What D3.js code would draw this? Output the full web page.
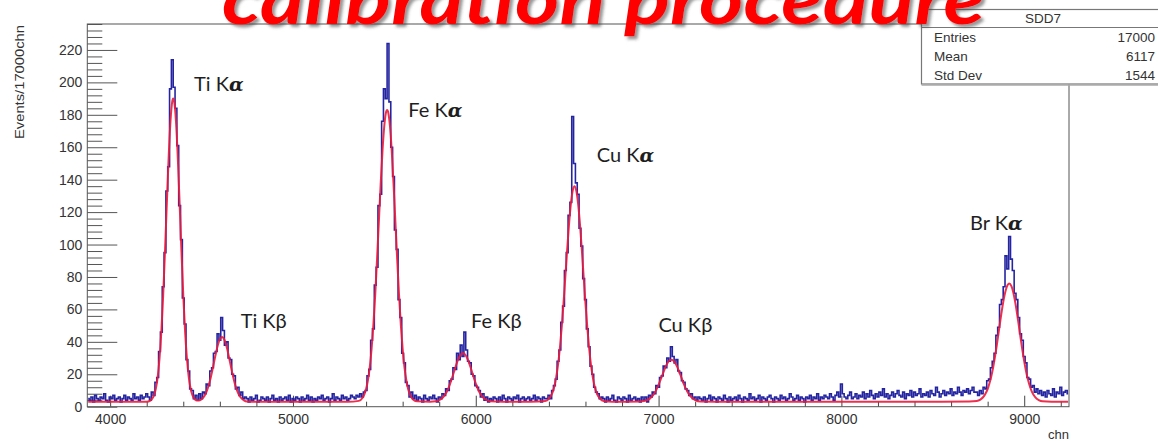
<!DOCTYPE html>
<html>
<head>
<meta charset="utf-8">
<script src="https://cdn.jsdelivr.net/npm/d3@7"></script>
<style>
  body { margin: 0; background: #fff; }
  svg { display: block; }
</style>
</head>
<body>
<svg id="chart" width="1158" height="442"></svg>
<script>
// ---- Spectrum data: counts per 10-channel bin (bin centres start at 3880) ----
const binStart = 3880;
const binWidth = 10;

const countsLowBg  = [5,4,6,3,7,5,4,6,5,8,4,3,6,5,7,4,5,6,3,5,7,4,6,5,4,8,5,6,4,7,5,6,8];            // 3880–4200
const countsTi     = [6,4,9,7,15,18,34,46,74,95,133,148,196,214,197,184,161,124,103,67,51,29,22,11,10,5,7,4,
                      8,5,9,8,14,13,22,24,33,34,45,41,55,47,38,40,30,29,20,19,11,12,7,9,5,6];                // 4210–4740
const countsMidBg1 = [5,3,6,4,5,7,3,4,6,5,4,6,3,5,7,4,5,3,6,4,5,6,4,7,3,5,4,6,5,3,6,4,5,7,4,6,3,5,4,6,
                      5,7,4,5,6,3,5,8,4,6,5,4,7,5,6,4,5,7,6,5,7,6,8,6];                                    // 4750–5380
const countsFeA    = [9,10,19,23,41,48,75,86,124,131,176,196,190,224,188,160,142,109,97,66,55,33,27,15,13,6,9,5,7]; // 5390–5670
const countsMidBg2 = [4,6,5,3,7,5,4,6,5,7];                                                                 // 5680–5770
const countsFeB    = [5,3,6,5,8,7,11,10,16,17,24,23,33,29,38,31,46,35,28,27,20,19,13,12,10,6,8,4,6,3,5];  // 5780–6080
const countsMidBg3 = [4,6,5,3,6,4,7,5,3,6,5,4,6,5,7,3,5,6,4,5,6,4,5,7,4,6,5,3,6,5];                        // 6090–6380
const countsCuA    = [5,7,5,10,13,17,28,35,52,62,84,95,118,126,179,150,138,131,110,99,79,66,48,37,25,20,12,9,8,5,6]; // 6390–6690
const countsMidBg4 = [5,3,6,4,5,7,4,3,6,5,4,6,5,3,7,4,5,6,4,5,3,6];                                        // 6700–6910
const countsCuB    = [4,6,3,7,6,9,8,13,12,18,19,25,24,30,28,37,31,27,29,22,21,16,15,11,10,7,8,5,6,4,6];    // 6920–7220
const countsHighBg1 = [5,4,6,3,5,7,4,6,5,3,6,5,4,7,5,3,6,4,5,6,4,7,5,3,6,5,4,8,5,6,4,5,7,3,6,5,4,6,7,5,
                       3,6,5,4,7,5,6,4,5,8,6,4,5,7,4,6,5,3,6,5,7,4,6,5,8,4,6,5,7,6,5,8,6,4,7,9,6];        // 7230–7990
const countsHighBg2 = [14,8,6,5,7,9,5,6,8,5,7,6,9,5,8,6,10,7,5,8,6,9,7,11,6,8,5,7,9,6,8,10,7,6,9,5,8,7,10,6,
                       9,7,8,11,6,8,7,9,6,10,8,7,12,9,6,8,10,7,9,8,11,7,9,8,12,9,7,10,9,11,8,10,12,9];    // 8000–8730
const countsBrA    = [9,7,10,8,12,11,16,17,24,28,33,44,49,63,66,74,93,85,105,91,84,70,66,55,45,41,31,27,18,17,
                      12,13,9,11,8,10,7];                                                                     // 8740–9100
const countsTail   = [9,6,10,8,7,11,6,9,8,12,7,9,10,8];                                                     // 9110–9240

const binCounts = [].concat(countsLowBg, countsTi, countsMidBg1, countsFeA, countsMidBg2, countsFeB,
  countsMidBg3, countsCuA, countsMidBg4, countsCuB, countsHighBg1, countsHighBg2, countsBrA, countsTail);

// ---- Fit function, sampled as [channel, events] ----
const fitCurve = [
  [3880,3],[4000,3],[4100,3],[4200,3.1],[4220,3.8],[4230,4.9],[4240,7.1],[4250,11.2],[4260,18.3],[4270,29.7],
  [4280,46.3],[4290,68.6],[4300,95.8],[4310,125.4],[4320,153.6],[4330,176],[4340,188.4],[4345,190],[4350,188.4],
  [4360,176],[4370,153.6],[4380,125.4],[4390,95.8],[4400,68.6],[4410,46.3],[4420,29.7],[4430,18.3],[4440,11.2],
  [4450,7.1],[4460,5.0],[4470,4.0],[4480,3.8],[4490,4.0],[4500,4.6],[4510,5.7],[4520,7.5],[4530,10],[4540,13.5],
  [4550,17.8],[4560,22.9],[4570,28.4],[4580,33.7],[4590,38.3],[4600,41.5],[4612,43],[4620,42.3],[4630,39.8],
  [4640,35.7],[4650,30.5],[4660,25.1],[4670,19.8],[4680,15.1],[4690,11.3],[4700,8.4],[4710,6.3],[4720,5],
  [4730,4.1],[4750,3.2],[4800,3],[5000,3],[5300,3],[5360,3.6],[5380,5.4],[5390,7.5],[5400,10.9],[5410,16.3],
  [5420,24.3],[5430,35.6],[5440,50.6],[5450,69.3],[5460,91.1],[5470,114.6],[5480,137.8],[5490,158.3],[5500,173.7],
  [5510,182],[5515,183],[5520,182],[5530,173.7],[5540,158.3],[5550,137.8],[5560,114.6],[5570,91.1],[5580,69.3],
  [5590,50.6],[5600,35.6],[5610,24.3],[5620,16.3],[5630,10.9],[5640,7.5],[5650,5.4],[5660,4.2],[5680,3.3],
  [5750,3.1],[5780,3.3],[5800,4],[5820,5.7],[5840,8.9],[5850,11.3],[5860,14.3],[5870,17.6],[5880,21.2],[5890,24.8],
  [5900,28.1],[5910,30.7],[5920,32.4],[5930,33],[5940,32.4],[5950,30.7],[5960,28.1],[5970,24.8],[5980,21.2],
  [5990,17.6],[6000,14.3],[6010,11.3],[6020,8.9],[6030,7.1],[6040,5.7],[6060,4],[6080,3.3],[6150,3],[6300,3],
  [6380,3.5],[6400,4.9],[6410,6.4],[6420,8.8],[6430,12.6],[6440,18.2],[6450,25.9],[6460,36.2],[6470,48.9],
  [6480,63.9],[6490,80.3],[6500,97],[6510,112.4],[6520,124.9],[6530,133.1],[6540,136],[6550,133.1],[6560,124.9],
  [6570,112.4],[6580,97],[6590,80.3],[6600,63.9],[6610,48.9],[6620,36.2],[6630,25.9],[6640,18.2],[6650,12.6],
  [6660,8.8],[6670,6.4],[6680,4.9],[6700,3.5],[6750,3],[6900,3.2],[6940,4.1],[6960,5.8],[6980,8.8],[6990,11],
  [7000,13.5],[7010,16.4],[7020,19.4],[7030,22.3],[7040,25],[7050,27.2],[7060,28.5],[7070,29],[7080,28.5],
  [7090,27.2],[7100,25],[7110,22.3],[7120,19.4],[7130,16.4],[7140,13.5],[7150,11],[7160,8.8],[7180,5.8],
  [7200,4.1],[7230,3.2],[7400,3],[8000,3],[8500,3],[8700,3.2],[8740,3.5],[8760,4.4],[8780,6.5],[8790,8.4],
  [8800,10.9],[8810,14.4],[8820,18.8],[8830,24.2],[8840,30.7],[8850,37.9],[8860,45.7],[8870,53.6],[8880,61],
  [8890,67.4],[8900,72.3],[8910,75.2],[8918,76],[8930,74.3],[8940,70.6],[8950,65],[8960,58.1],[8970,50.4],
  [8980,42.5],[8990,34.9],[9000,28],[9010,21.9],[9020,16.9],[9030,12.9],[9040,9.8],[9050,7.5],[9060,5.9],
  [9080,4.1],[9100,3.3],[9150,3],[9240,3]
];

// ---- Axis ticks ----
const xTickValues = [4000, 5000, 6000, 7000, 8000, 9000];
const xMinorTicks = d3.range(4200, 9241, 200).filter(v => v % 1000 !== 0);
const yTickValues = [0, 20, 40, 60, 80, 100, 120, 140, 160, 180, 200, 220];
const yMinorTicks = d3.range(0, 237, 4).filter(v => v % 20 !== 0);

// ---- Line names and stats box ----
const lineNames   = ["Ti", "Ti", "Fe", "Fe", "Cu", "Cu", "Br"];
const lineSymbols = ["α", "β", "α", "β", "α", "β", "α"];
const statsTitle  = "SDD7";
const statsNames  = ["Entries", "Mean", "Std Dev"];
const statsValues = ["17000", "6117", "1544"];
const titleText   = "calibration procedure";
const xAxisTitle  = "chn";
const yAxisTitle  = "Events/17000chn";

// ---- Layout ----
const svg = d3.select("#chart");
const plot = { left: 87.3, right: 1069, top: 24, bottom: 406.7 };

const x = d3.scaleLinear().domain([3875, 9245]).range([plot.left, plot.right]);
const y = d3.scaleLinear().domain([0, 236]).range([plot.bottom, plot.top]);

const axisFont = "'Liberation Sans', Arial, Helvetica, sans-serif";

const defs = svg.append("defs");
defs.append("clipPath").attr("id", "plot-clip")
  .append("rect")
  .attr("x", plot.left).attr("y", plot.top)
  .attr("width", plot.right - plot.left).attr("height", plot.bottom - plot.top);

const shadow = defs.append("filter").attr("id", "title-shadow")
  .attr("x", "-5%").attr("y", "-20%").attr("width", "115%").attr("height", "160%");
shadow.append("feDropShadow")
  .attr("dx", 3).attr("dy", 3).attr("stdDeviation", 1.6)
  .attr("flood-color", "#444").attr("flood-opacity", 0.55);

// y axis: minor and major ticks pointing into the frame
svg.append("g")
  .attr("transform", `translate(${plot.left},0)`)
  .attr("color", "#555")
  .call(d3.axisLeft(y).tickValues(yMinorTicks).tickSize(-15).tickFormat(""))
  .call(g => g.select(".domain").remove());

svg.append("g")
  .attr("transform", `translate(${plot.left},0)`)
  .attr("color", "#555")
  .call(d3.axisLeft(y).tickValues(yTickValues).tickSize(-30).tickPadding(5).tickFormat(d3.format("d")))
  .call(g => g.select(".domain").remove())
  .call(g => g.selectAll("text").attr("fill", "#333").attr("font-size", 14).attr("font-family", axisFont));

// x axis
svg.append("g")
  .attr("transform", `translate(0,${plot.bottom})`)
  .attr("color", "#444")
  .call(d3.axisBottom(x).tickValues(xMinorTicks).tickSize(-5).tickFormat(""))
  .call(g => g.select(".domain").remove());

svg.append("g")
  .attr("transform", `translate(0,${plot.bottom})`)
  .attr("color", "#444")
  .call(d3.axisBottom(x).tickValues(xTickValues).tickSize(-11).tickPadding(7).tickFormat(d3.format("d")))
  .call(g => g.select(".domain").remove())
  .call(g => g.selectAll("text").attr("fill", "#333").attr("font-size", 14).attr("font-family", axisFont));

// histogram (step line) and fit
const bins = binCounts.map((c, i) => ({ ch: binStart + i * binWidth, n: c }));

const dataLayer = svg.append("g").attr("clip-path", "url(#plot-clip)");

dataLayer.append("path")
  .datum(bins)
  .attr("fill", "none")
  .attr("stroke", "#2424a2")
  .attr("stroke-width", 1.6)
  .attr("stroke-linejoin", "miter")
  .attr("d", d3.line().x(d => x(d.ch)).y(d => y(d.n)).curve(d3.curveStep));

dataLayer.append("path")
  .datum(fitCurve)
  .attr("fill", "none")
  .attr("stroke", "#ec1a3c")
  .attr("stroke-width", 2)
  .attr("stroke-opacity", 0.9)
  .attr("d", d3.line().x(d => x(d[0])).y(d => y(d[1])).curve(d3.curveMonotoneX));

// frame
svg.append("rect")
  .attr("x", plot.left).attr("y", plot.top)
  .attr("width", plot.right - plot.left).attr("height", plot.bottom - plot.top)
  .attr("fill", "none").attr("stroke", "#555").attr("stroke-width", 1);

// axis titles
svg.append("text")
  .attr("transform", `translate(24,${plot.top + 1}) rotate(-90)`)
  .attr("text-anchor", "end")
  .attr("font-family", axisFont).attr("font-size", 13.5).attr("fill", "#333")
  .attr("textLength", 114).attr("lengthAdjust", "spacingAndGlyphs")
  .text(yAxisTitle);

svg.append("text")
  .attr("x", plot.right).attr("y", 439)
  .attr("text-anchor", "end")
  .attr("font-family", axisFont).attr("font-size", 13).attr("fill", "#333")
  .text(xAxisTitle);

// line labels, anchored in channel / event units
const labelAnchors = [
  [4459, 194.5], [4714, 48.4], [5631, 178.6], [5974, 48.4], [6662, 151.2], [6999, 46.3], [8704, 109.1]
];
const labelFont = "Lato, 'Open Sans', 'Noto Sans', sans-serif";
lineNames.forEach((name, i) => {
  const t = svg.append("text")
    .attr("x", x(labelAnchors[i][0])).attr("y", y(labelAnchors[i][1]))
    .attr("font-family", labelFont).attr("font-size", 20).attr("fill", "#1e1e1e");
  t.append("tspan").text(name + " K");
  const sym = t.append("tspan").text(lineSymbols[i]);
  if (lineSymbols[i] === "α") {
    sym.attr("font-family", "'DejaVu Serif', 'Liberation Serif', serif")
      .attr("font-style", "italic").attr("font-weight", "bold").attr("font-size", 19);
  }
});

// stats box
const box = svg.append("g");
box.append("rect")
  .attr("x", 921.5).attr("y", 9.5).attr("width", 250).attr("height", 74.5)
  .attr("fill", "#fff").attr("stroke", "#777").attr("stroke-width", 1.2);
box.append("line")
  .attr("x1", 921.5).attr("x2", 1158).attr("y1", 85).attr("y2", 85)
  .attr("stroke", "#aaa").attr("stroke-width", 1.5);
box.append("line")
  .attr("x1", 921.5).attr("x2", 1158).attr("y1", 27.5).attr("y2", 27.5)
  .attr("stroke", "#777").attr("stroke-width", 1);
box.append("text")
  .attr("x", 1043).attr("y", 23).attr("text-anchor", "middle")
  .attr("font-family", axisFont).attr("font-size", 13.5).attr("fill", "#333")
  .text(statsTitle);
statsNames.forEach((name, i) => {
  const by = 42 + i * 19;
  box.append("text").attr("x", 934).attr("y", by)
    .attr("font-family", axisFont).attr("font-size", 13.5).attr("fill", "#333").text(name);
  box.append("text").attr("x", 1155).attr("y", by).attr("text-anchor", "end")
    .attr("font-family", axisFont).attr("font-size", 13.5).attr("fill", "#333").text(statsValues[i]);
});

// slide title over the plot
svg.append("text")
  .attr("x", 222).attr("y", 24)
  .attr("font-family", "Lato, 'Open Sans', sans-serif")
  .attr("font-weight", "bold").attr("font-style", "italic")
  .attr("font-size", 70)
  .attr("textLength", 763).attr("lengthAdjust", "spacingAndGlyphs")
  .attr("fill", "#ff0000")
  .attr("filter", "url(#title-shadow)")
  .text(titleText);
</script>
</body>
</html>
